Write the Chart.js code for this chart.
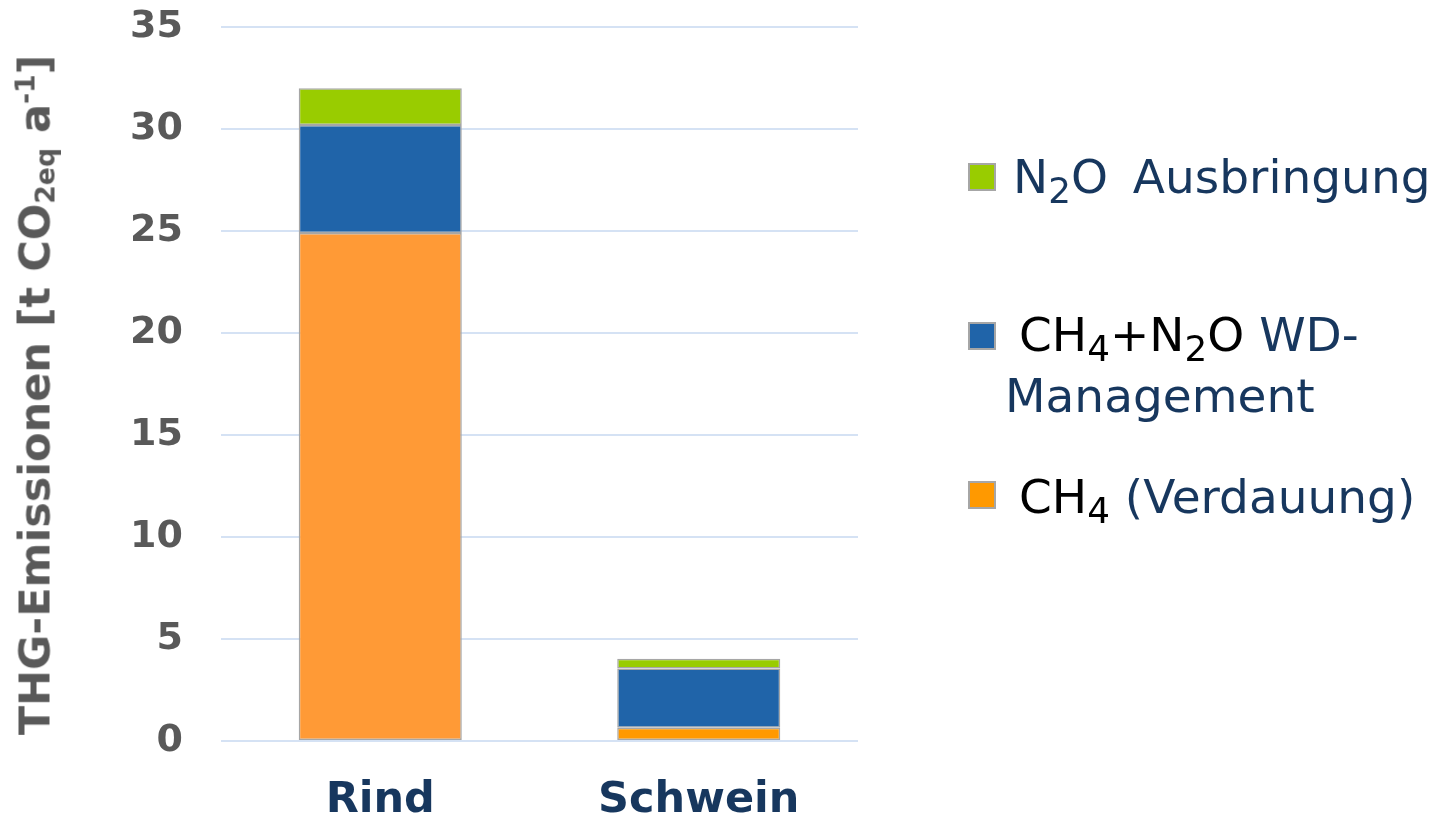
<!DOCTYPE html>
<html>
<head>
<meta charset="utf-8">
<script src="https://cdn.jsdelivr.net/npm/chart.js@4"></script>
<style>
  html, body { margin: 0; padding: 0; background: #ffffff; }
  #wrap { position: relative; width: 1433px; height: 818px; overflow: hidden; font-family: "DejaVu Sans", Verdana, sans-serif; }
  canvas { position: absolute; left: 0; top: 0; }
  .ytitle { position: absolute; left: 35px; top: 395px; transform: translate(-50%, -50%) rotate(-90deg);
    white-space: nowrap; font-weight: bold; font-size: 43px; line-height: 43px; color: #595959; }
  .ytitle sub { font-size: 62%; vertical-align: -0.18em; line-height: 0; }
  .ytitle sup { font-size: 62%; vertical-align: 0.55em; line-height: 0; }
  .lg { position: absolute; white-space: nowrap; font-size: 47px; line-height: 47px; color: #17375E; }
  .lg sub { font-size: 76%; vertical-align: -10px; line-height: 0; }
  .blk { color: #000000; }
  .gap { display: inline-block; width: 10px; }
  .sw { position: absolute; width: 28px; height: 28px; box-sizing: border-box; border: 2px solid #A6A6A6; }
</style>
</head>
<body>
<div id="wrap">
  <canvas id="c" width="1433" height="818"></canvas>
  <div class="ytitle">THG-Emissionen [t CO<sub>2eq</sub> a<sup>-1</sup>]</div>
  <div class="sw" style="left:968px; top:163px; background:#99CC00;"></div>
  <div class="lg" style="left:1013px; top:153px;">N<sub>2</sub>O<span class="gap"></span> Ausbringung</div>
  <div class="sw" style="left:968px; top:322px; background:#2064A9;"></div>
  <div class="lg" style="left:1019px; top:311px;"><span class="blk">CH<sub>4</sub>+N<sub>2</sub>O</span> WD-</div>
  <div class="lg" style="left:1005px; top:372px;">Management</div>
  <div class="sw" style="left:968px; top:481px; background:#FF9900;"></div>
  <div class="lg" style="left:1019px; top:473px;"><span class="blk">CH<sub>4</sub></span> (Verdauung)</div>
</div>
<script>
const categories = ['Rind', 'Schwein'];
const ch4Verdauung = [24.9, 0.65];
const wdManagement = [5.3, 2.9];
const n2oAusbringung = [1.8, 0.48];
const yTicks = [0, 5, 10, 15, 20, 25, 30, 35];

const border = '#A6A6A6';
new Chart(document.getElementById('c'), {
  type: 'bar',
  data: {
    labels: categories,
    datasets: [
      { label: 'CH4 (Verdauung)', data: ch4Verdauung, backgroundColor: ['#FF9A36', '#FF9900'],
        borderColor: border, borderWidth: 1.5, borderSkipped: false },
      { label: 'CH4+N2O WD-Management', data: wdManagement, backgroundColor: '#2064A9',
        borderColor: border, borderWidth: 1.5, borderSkipped: false },
      { label: 'N2O Ausbringung', data: n2oAusbringung, backgroundColor: '#99CC00',
        borderColor: border, borderWidth: 1.5, borderSkipped: false }
    ]
  },
  options: {
    responsive: false,
    animation: false,
    devicePixelRatio: 1,
    layout: { padding: { left: 0, right: 575, top: 27, bottom: 0 } },
    plugins: { legend: { display: false }, tooltip: { enabled: false }, title: { display: false } },
    datasets: { bar: { barPercentage: 0.512, categoryPercentage: 1.0 } },
    scales: {
      x: {
        stacked: true,
        grid: { display: false, drawTicks: false },
        border: { display: false },
        ticks: { color: '#17375E', font: { family: 'DejaVu Sans', size: 43, weight: 'bold' }, padding: 34 },
        afterFit: (s) => { s.height = 77; s.paddingLeft = 0; s.paddingRight = 0; }
      },
      y: {
        stacked: true,
        min: 0, max: 35,
        afterBuildTicks: (s) => { s.ticks = yTicks.map(v => ({ value: v })); },
        grid: { color: '#D5E2F4', lineWidth: 2, drawTicks: false },
        border: { display: false },
        ticks: { color: '#595959', font: { family: 'DejaVu Sans', size: 38, weight: 'bold' }, padding: 38 },
        afterFit: (s) => { s.width = 221; s.paddingTop = 0; s.paddingBottom = 0; }
      }
    }
  }
});
</script>
</body>
</html>
